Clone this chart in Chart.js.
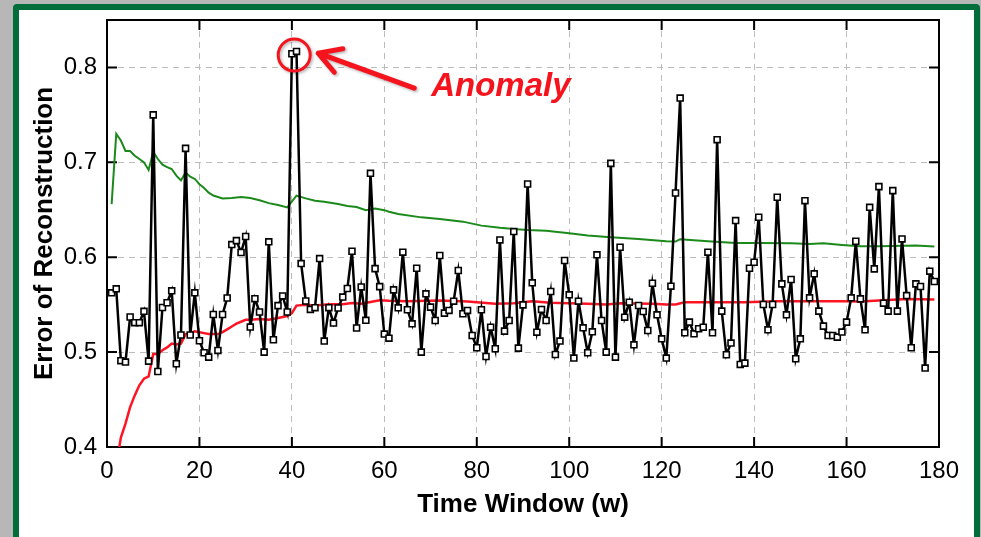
<!DOCTYPE html>
<html>
<head>
<meta charset="utf-8">
<script src="https://cdn.jsdelivr.net/npm/chart.js@4/dist/chart.umd.min.js"></script>
<style>
  html, body { margin: 0; padding: 0; width: 981px; height: 537px; overflow: hidden; background: #b7b7b7; }
  #frame {
    position: absolute; left: 13px; top: 4px; width: 967px; height: 540px;
    box-sizing: border-box; border: 6px solid #006d3b; border-radius: 4px 4px 0 0; background: #fff;
  }
  #chart { position: absolute; left: 0; top: 0; }
</style>
</head>
<body>
<div id="frame"></div>
<canvas id="chart" width="981" height="537"></canvas>
<script>
// reconstruction error per time window (w = 1..179)
const reconError = [
  0.5625, 0.5667, 0.491, 0.4895, 0.537, 0.531, 0.531, 0.543, 0.4905, 0.750,
  0.4796, 0.547, 0.552, 0.5646, 0.4877, 0.518, 0.7147, 0.518, 0.5625, 0.512,
  0.4993, 0.4947, 0.5396, 0.5018, 0.5396, 0.557, 0.6133, 0.6175, 0.605, 0.6218,
  0.5264, 0.5563, 0.5423, 0.500, 0.6162, 0.513, 0.549, 0.5592, 0.5423, 0.8144,
  0.8169, 0.5933, 0.5539, 0.545, 0.5468, 0.5986, 0.5116, 0.5468, 0.5306, 0.5465,
  0.558, 0.567, 0.6063, 0.5254, 0.5687, 0.5335, 0.6884, 0.588, 0.569, 0.519,
  0.5147, 0.5656, 0.5467, 0.6053, 0.5446, 0.5298, 0.5884, 0.500, 0.5614, 0.5474,
  0.5333, 0.6018, 0.5411, 0.5439, 0.5537, 0.586, 0.5404, 0.5439, 0.5175, 0.5046,
  0.5446, 0.4954, 0.5263, 0.5035, 0.6182, 0.5221, 0.5333, 0.627, 0.5042, 0.5498,
  0.6772, 0.573, 0.521, 0.545, 0.5333, 0.5639, 0.4975, 0.5116, 0.5965, 0.5604,
  0.4937, 0.5537, 0.5256, 0.4993, 0.5214, 0.6025, 0.5333, 0.500, 0.6989, 0.4947,
  0.6105, 0.5368, 0.5526, 0.5077, 0.5491, 0.5428, 0.5228, 0.5726, 0.5393, 0.514,
  0.4937, 0.5695, 0.6677, 0.7677, 0.5204, 0.5316, 0.5193, 0.5246, 0.5263, 0.6053,
  0.5204, 0.7239, 0.5432, 0.4972, 0.5095, 0.6386, 0.487, 0.4884, 0.5884, 0.5947,
  0.6421, 0.5502, 0.5235, 0.5502, 0.6632, 0.5719, 0.5393, 0.5765, 0.493, 0.514,
  0.6596, 0.5572, 0.5825, 0.5432, 0.5274, 0.5175, 0.5175, 0.5158, 0.5211, 0.5316,
  0.5572, 0.6168, 0.5561, 0.5235, 0.6526, 0.5877, 0.6744, 0.5516, 0.5432, 0.6702,
  0.5432, 0.6193, 0.5596, 0.5046, 0.5719, 0.5691, 0.4832, 0.5853, 0.5744
];

// upper threshold (green)
const upperW = [1, 2, 3, 4, 5, 6, 7, 8, 9, 10, 11, 12, 13, 14, 15, 16, 17, 18, 19, 20,
  21, 22, 23, 25, 27, 29, 31, 33, 35, 37, 39, 41, 43, 45, 47, 50,
  52, 54, 56, 58, 60, 61, 63, 68, 72, 77, 81, 85, 88, 91, 95, 100, 104, 109, 115, 121,
  123, 124, 130, 136, 141, 148, 152, 155, 159, 163, 167, 175, 179];
const upperVal = [0.656, 0.730, 0.723, 0.712, 0.712, 0.707, 0.7035, 0.700, 0.692, 0.711,
  0.7035, 0.6975, 0.695, 0.693, 0.686, 0.681, 0.689, 0.685, 0.6825, 0.677,
  0.673, 0.668, 0.665, 0.662, 0.6625, 0.6635, 0.6625, 0.660, 0.657, 0.655,
  0.6525, 0.665, 0.662, 0.6595, 0.6585, 0.656,
  0.654, 0.653, 0.6496, 0.6514, 0.6496, 0.648, 0.6456, 0.642, 0.6404, 0.6375,
  0.6333, 0.631, 0.6298, 0.6288, 0.628, 0.6253, 0.6228, 0.621, 0.6193, 0.6168,
  0.6165, 0.619, 0.6168, 0.6151, 0.6151, 0.6147, 0.614, 0.6147, 0.613, 0.6116,
  0.6116, 0.6123, 0.6112];

// lower threshold (red)
const lowerW = [1, 2, 3, 4, 5, 6, 7, 8, 9, 10, 11, 12, 13, 14, 15, 16, 17, 18, 19, 20,
  21, 22, 23, 24, 25, 26, 27, 28, 29, 30, 31, 33, 35, 37, 39, 40, 41, 43, 45, 48,
  51, 53, 55, 57, 59, 61, 65, 72, 78, 84, 88, 92, 96, 104, 108, 111, 118, 121, 123, 125,
  131, 138, 145, 152, 159, 163, 170, 173, 179];
const lowerVal = [0.35, 0.38, 0.41, 0.4246, 0.442, 0.4544, 0.465, 0.472, 0.4744, 0.498,
  0.498, 0.502, 0.505, 0.509, 0.508, 0.509, 0.519, 0.520, 0.522, 0.521,
  0.520, 0.519, 0.519, 0.519, 0.521, 0.524, 0.527, 0.530, 0.532, 0.534,
  0.534, 0.535, 0.534, 0.536, 0.538, 0.541, 0.549, 0.550, 0.549, 0.5504,
  0.5504, 0.5518, 0.551, 0.5528, 0.5546, 0.554, 0.5537, 0.5544, 0.5533, 0.5509,
  0.5516, 0.5537, 0.552, 0.5509, 0.5502, 0.5516, 0.5509, 0.5502, 0.5502, 0.5526,
  0.5526, 0.5526, 0.5537, 0.5537, 0.5537, 0.5533, 0.5551, 0.5561, 0.5554];

const xTicks = [0, 20, 40, 60, 80, 100, 120, 140, 160, 180];
const yTicks = [0.4, 0.5, 0.6, 0.7, 0.8];

// the flagged window (pair of points at w=40/41)
const ANOMALY_X = 40.5;
const ANOMALY_Y = 0.813;
const ANOMALY_LABEL = "Anomaly";

const FONT = "'Liberation Sans', Arial, Helvetica, sans-serif";
const TICK = 10;

// inward tick marks + black box round the plot
const framePlugin = {
  id: "frame",
  beforeDatasetsDraw(chart) {
    const { ctx, chartArea: a, scales } = chart;
    ctx.save();
    ctx.strokeStyle = "#000";
    ctx.lineWidth = 2;
    ctx.beginPath();
    xTicks.forEach((v) => {
      const px = scales.x.getPixelForValue(v);
      ctx.moveTo(px, a.bottom);
      ctx.lineTo(px, a.bottom - TICK);
      ctx.moveTo(px, a.top);
      ctx.lineTo(px, a.top + TICK);
    });
    yTicks.forEach((v) => {
      const py = scales.y.getPixelForValue(v);
      ctx.moveTo(a.left, py);
      ctx.lineTo(a.left + TICK, py);
      ctx.moveTo(a.right, py);
      ctx.lineTo(a.right - TICK, py);
    });
    ctx.stroke();
    ctx.strokeRect(a.left, a.top, a.right - a.left, a.bottom - a.top);
    ctx.restore();
  },
};

// red circle, arrow and label
const anomalyPlugin = {
  id: "anomaly",
  afterDraw(chart) {
    const { ctx, scales } = chart;
    const cx = scales.x.getPixelForValue(ANOMALY_X);
    const cy = scales.y.getPixelForValue(ANOMALY_Y);
    ctx.save();
    ctx.strokeStyle = "#f5141e";
    ctx.lineCap = "round";
    ctx.lineJoin = "round";
    ctx.shadowColor = "rgba(0,0,0,0.3)";
    ctx.shadowBlur = 3;
    ctx.shadowOffsetX = 1.5;
    ctx.shadowOffsetY = 1.5;

    ctx.lineWidth = 3;
    ctx.beginPath();
    ctx.arc(cx, cy, 16, 0, Math.PI * 2);
    ctx.stroke();

    // arrow from the label to the circle
    const tipX = cx + 24, tipY = cy - 2;
    const tailX = cx + 120, tailY = cy + 33;
    const ang = Math.atan2(tailY - tipY, tailX - tipX);
    const wing = 25, spread = Math.PI / 6;
    ctx.lineWidth = 5;
    ctx.beginPath();
    ctx.moveTo(tailX, tailY);
    ctx.lineTo(tipX, tipY);
    ctx.moveTo(tipX + wing * Math.cos(ang + spread), tipY + wing * Math.sin(ang + spread));
    ctx.lineTo(tipX, tipY);
    ctx.lineTo(tipX + wing * Math.cos(ang - spread), tipY + wing * Math.sin(ang - spread));
    ctx.stroke();

    ctx.shadowColor = "transparent";
    ctx.fillStyle = "#f5141e";
    ctx.font = "italic bold 33px " + FONT;
    ctx.textAlign = "left";
    ctx.textBaseline = "middle";
    ctx.fillText(ANOMALY_LABEL, cx + 137, cy + 32);
    ctx.restore();
  },
};

const toPoints = (xs, ys) => xs.map((w, i) => ({ x: w, y: ys[i] }));

new Chart(document.getElementById("chart"), {
  type: "line",
  data: {
    datasets: [
      {
        label: "Error",
        data: reconError.map((v, i) => ({ x: i + 1, y: v })),
        borderColor: "#000",
        borderWidth: 2.5,
        pointStyle: "rect",
        pointRadius: 4.2,
        pointBorderWidth: 1.6,
        pointBackgroundColor: "#fff",
        pointBorderColor: "#000",
        tension: 0,
      },
      {
        label: "Upper",
        data: toPoints(upperW, upperVal),
        borderColor: "#1b8a1b",
        borderWidth: 2,
        pointRadius: 0,
        tension: 0,
      },
      {
        label: "Lower",
        data: toPoints(lowerW, lowerVal),
        borderColor: "#ff1424",
        borderWidth: 2.5,
        pointRadius: 0,
        tension: 0,
      },
    ],
  },
  options: {
    responsive: false,
    animation: false,
    devicePixelRatio: 1,
    layout: { padding: { left: 0, right: 42, top: 20, bottom: 0 } },
    plugins: { legend: { display: false }, tooltip: { enabled: false } },
    scales: {
      x: {
        type: "linear",
        min: 0,
        max: 180,
        afterBuildTicks: (s) => { s.ticks = xTicks.map((v) => ({ value: v })); },
        afterFit: (s) => { s.height = 90; s.paddingLeft = 0; s.paddingRight = 0; },
        ticks: { color: "#000", font: { family: FONT, size: 24 }, padding: 10, maxRotation: 0 },
        grid: { color: "#bcbcbc", lineWidth: 1, drawTicks: false },
        border: { display: false, dash: [6, 5] },
        title: {
          display: true,
          text: "Time Window (w)",
          color: "#000",
          font: { family: FONT, size: 26, weight: "bold" },
          padding: { top: 0, bottom: 17 },
        },
      },
      y: {
        min: 0.4,
        max: 0.85,
        afterBuildTicks: (s) => { s.ticks = yTicks.map((v) => ({ value: v })); },
        afterFit: (s) => { s.width = 107; s.paddingTop = 0; s.paddingBottom = 0; },
        ticks: {
          color: "#000",
          font: { family: FONT, size: 24 },
          padding: 10,
          callback: (v) => v.toFixed(1),
        },
        grid: { color: "#bcbcbc", lineWidth: 1, drawTicks: false },
        border: { display: false, dash: [6, 5] },
        title: {
          display: true,
          text: "Error of Reconstruction",
          color: "#000",
          font: { family: FONT, size: 26, weight: "bold" },
          padding: { top: 29, bottom: 0 },
        },
      },
    },
  },
  plugins: [framePlugin, anomalyPlugin],
});
</script>
</body>
</html>
